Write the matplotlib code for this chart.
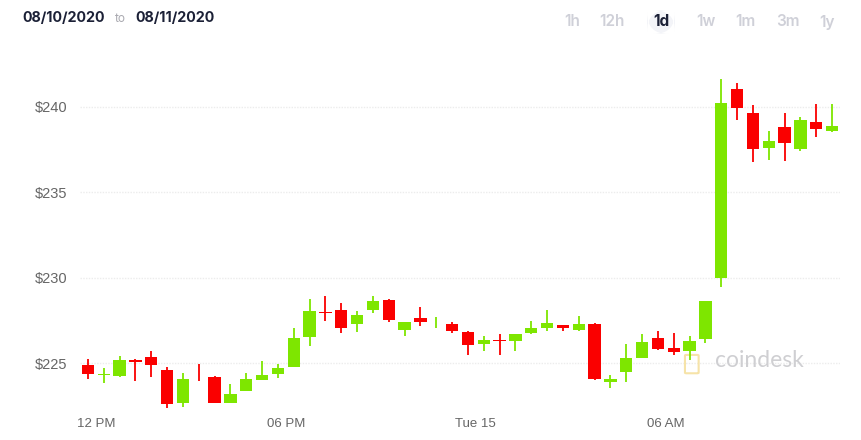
import numpy as np
import pandas as pd
import matplotlib
matplotlib.use('Agg')
import matplotlib.pyplot as plt
import matplotlib.dates as mdates
from matplotlib.patches import FancyBboxPatch

# 30 minute candles, 11:30 Mon 14 -> 11:30 Tue 15
opens = [224.92, 224.33, 224.24, 225.19, 225.39, 224.61, 222.68, 224.45, 224.22, 222.70,
         223.36, 224.01, 224.35, 224.78, 226.55, 228.00, 228.12, 227.32, 228.10, 228.72,
         226.96, 227.67, 227.60, 227.32, 226.83, 226.13, 226.36, 226.31, 226.76, 227.09,
         227.24, 226.93, 227.32, 223.89, 224.47, 225.33, 226.50, 225.90, 225.72, 226.40,
         229.97, 241.04, 239.62, 237.61, 238.82, 237.51, 239.11, 238.59]
highs = [225.27, 224.70, 225.43, 225.27, 225.74, 224.77, 224.43, 224.94, 224.25, 223.79,
         224.41, 225.11, 224.98, 227.05, 228.74, 228.95, 228.55, 228.04, 228.95, 228.74,
         227.43, 228.31, 227.72, 227.41, 226.91, 226.59, 226.72, 226.74, 227.47, 228.12,
         227.26, 227.76, 227.35, 224.32, 226.13, 226.71, 226.89, 226.75, 226.59, 228.66,
         241.62, 241.41, 240.10, 238.59, 239.62, 239.43, 240.18, 240.18]
lows = [224.06, 223.82, 224.22, 223.98, 224.22, 222.37, 222.47, 223.96, 222.66, 222.70,
        223.36, 224.00, 224.14, 224.76, 226.02, 227.49, 226.76, 226.85, 227.92, 227.43,
        226.59, 227.17, 227.04, 226.76, 225.49, 225.70, 225.49, 225.74, 226.74, 226.91,
        226.89, 226.90, 224.02, 223.54, 223.93, 225.31, 225.80, 225.47, 225.19, 226.20,
        229.48, 239.23, 236.77, 236.89, 236.81, 237.44, 238.21, 238.55]
closes = [224.37, 224.36, 225.19, 225.09, 224.92, 222.60, 224.10, 224.43, 222.68, 223.20,
          224.08, 224.30, 224.70, 226.48, 228.08, 227.97, 227.09, 227.82, 228.64, 227.53,
          227.41, 227.43, 227.62, 226.89, 226.05, 226.37, 226.33, 226.72, 227.09, 227.33,
          227.04, 227.32, 224.08, 224.08, 225.33, 226.26, 225.82, 225.68, 226.32, 228.64,
          240.24, 239.91, 237.55, 237.98, 237.90, 239.23, 238.70, 238.86]

y_ticks = [225, 230, 235, 240]
tick_times = ['2020-09-14 12:00', '2020-09-14 18:00', '2020-09-15 00:00', '2020-09-15 06:00']
tick_labels = ['12 PM', '06 PM', 'Tue 15', '06 AM']
ranges = ['1h', '12h', '1d', '1w', '1m', '3m', '1y']

green = '#7ee600'
red = '#fa0000'

starts = pd.date_range('2020-09-14 11:30', periods=len(opens), freq='30min')
x = mdates.date2num(starts + pd.Timedelta(minutes=15))
bar_w = 0.39 / 24

fig = plt.figure(figsize=(8.61, 4.40), dpi=100)
ax = fig.add_axes([80 / 861, 30 / 440, 760 / 861, 340 / 440])

for xi, o, h, l, c in zip(x, opens, highs, lows, closes):
    col = green if c >= o else red
    ax.vlines(xi, l, h, color=col, linewidth=1.3, zorder=3)
    ax.bar(xi, abs(c - o), bottom=min(o, c), width=bar_w, color=col, zorder=4)

ax.set_xlim(mdates.date2num(starts[0]), mdates.date2num(starts[-1] + pd.Timedelta(minutes=30)))
ax.set_ylim(222.27, 242.15)
ax.set_yticks(y_ticks)
ax.set_yticklabels(['$%d' % v for v in y_ticks], fontsize=10.5, color='#666666',
                   family='Liberation Sans')
ax.set_xticks(mdates.date2num(pd.to_datetime(tick_times)))
ax.set_xticklabels(tick_labels, fontsize=9.5, color='#666666', family='Liberation Sans')
ax.tick_params(axis='y', length=0, pad=9)
ax.tick_params(axis='x', length=0, pad=6)
ax.grid(axis='y', color='#ececec', linestyle=(0, (1, 1)), linewidth=1)
ax.set_axisbelow(True)
for s in ax.spines.values():
    s.set_visible(False)

# watermark
ax.text(0.835, 0.145, 'coindesk', transform=ax.transAxes, fontsize=16.5, color='#cfcfd2',
        ha='left', va='center', family='Lato', zorder=2)
ax.add_patch(FancyBboxPatch((0.798, 0.11), 0.014, 0.05, transform=ax.transAxes,
                            boxstyle='round,pad=0.002', fill=False, edgecolor='#f6e3a8',
                            linewidth=1.5, zorder=2))

# header
fig.text(22 / 861, 1 - 18 / 440, '08/10/2020', fontsize=10.3, fontweight='bold',
         color='#1b2036', va='center', ha='left', family='Inter')
fig.text(120 / 861, 1 - 19 / 440, 'to', fontsize=8.5, color='#a9a9b0', va='center',
         ha='center', family='Inter')
fig.text(135 / 861, 1 - 18 / 440, '08/11/2020', fontsize=10.3, fontweight='bold',
         color='#1b2036', va='center', ha='left', family='Inter')

range_x = [572, 612, 661, 706, 745, 788, 827]
for lbl, rx in zip(ranges, range_x):
    if lbl == '1d':
        fig.patches.append(FancyBboxPatch((rx / 861 - 14 / 861, 1 - 34 / 440), 28 / 861, 24 / 440,
                                          boxstyle='round,pad=0,rounding_size=0.025',
                                          transform=fig.transFigure, facecolor='#f3f4f8',
                                          edgecolor='none', mutation_aspect=861 / 440))
        fig.text(rx / 861, 1 - 22 / 440, lbl, fontsize=11, fontweight='bold', color='#1b2036',
                 ha='center', va='center', family='Inter')
    else:
        fig.text(rx / 861, 1 - 22 / 440, lbl, fontsize=11, fontweight='semibold', color='#cfd0d8',
                 ha='center', va='center', family='Inter')

plt.savefig('out.png', dpi=100)
